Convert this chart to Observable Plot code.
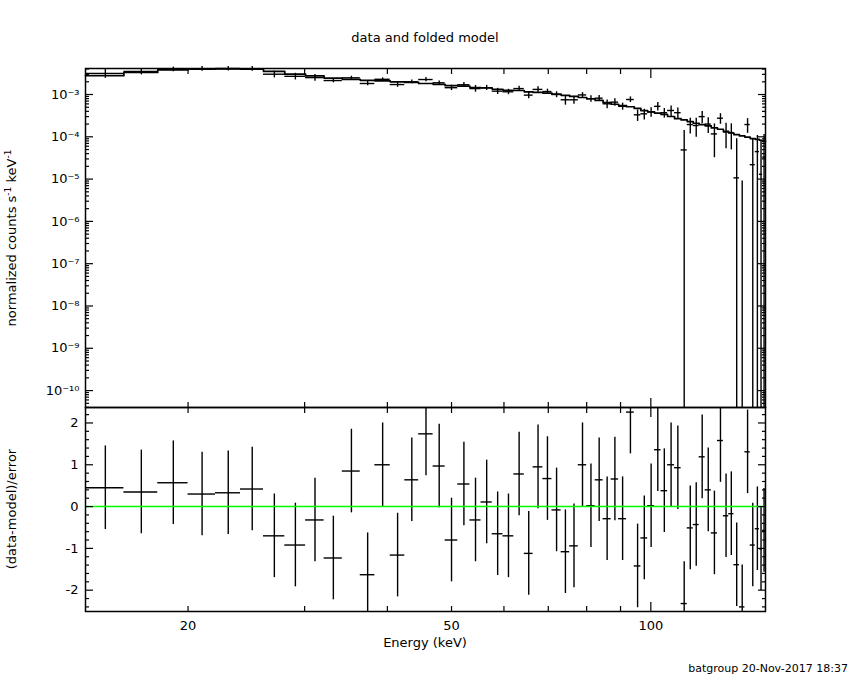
<!DOCTYPE html>
<html>
<head>
<meta charset="utf-8">
<script src="https://cdn.jsdelivr.net/npm/d3@7"></script>
<script src="https://cdn.jsdelivr.net/npm/@observablehq/plot@0.6"></script>
<style>
  html, body { margin: 0; padding: 0; background: #fff; }
  #wrap { position: relative; width: 850px; height: 680px; background: #fff; font-family: "DejaVu Sans", sans-serif; color: #000; overflow: hidden; }
  #plots svg { position: absolute; left: 0; top: 0; }
  .lbl { position: absolute; white-space: nowrap; text-align: center; font-size: 13px; line-height: 16px; }
  .lbl sup { font-size: 9px; vertical-align: 5px; line-height: 0; }
</style>
</head>
<body>
<div id="wrap">
  <div id="plots"></div>
  <div class="lbl" style="left:0;top:30px;width:850px;">data and folded model</div>
  <div class="lbl" style="left:0;top:635px;width:850px;">Energy (keV)</div>
  <div class="lbl" style="left:-138px;top:230px;width:300px;transform:rotate(-90deg);">normalized counts s<sup>-1</sup> keV<sup>-1</sup></div>
  <div class="lbl" style="left:-138px;top:501px;width:300px;transform:rotate(-90deg);">(data-model)/error</div>
  <div class="lbl" style="right:2px;top:662px;font-size:11px;line-height:14px;text-align:right;">batgroup 20-Nov-2017 18:37</div>
</div>
<script>
// ---- data ----
const edges = [14.0,16.0,18.0,20.0,22.0,24.0,26.0,28.0,30.1,32.1,34.2,36.4,38.3,40.4,42.5,44.6,46.9,48.9,51.1,53.3,
  55.4,57.6,59.8,62.1,64.4,66.4,68.7,70.9,73.2,75.4,77.7,80.0,82.4,84.7,87.1,89.4,91.9,94.4,96.6,98.9,
  101.3,103.6,106.0,108.6,111.1,113.5,115.9,118.3,120.8,123.4,126.1,128.7,131.1,133.5,136.1,138.7,141.3,143.8,145.9,147.5,149.0];

const model = [2.79e-3,3.31e-3,3.80e-3,3.98e-3,4.03e-3,3.98e-3,3.51e-3,3.02e-3,2.75e-3,2.45e-3,
  2.29e-3,2.16e-3,2.11e-3,2.00e-3,1.93e-3,1.82e-3,1.74e-3,1.62e-3,1.58e-3,1.46e-3,
  1.43e-3,1.33e-3,1.26e-3,1.245e-3,1.16e-3,1.12e-3,1.08e-3,1.02e-3,9.55e-4,9.0e-4,
  8.5e-4,7.94e-4,7.24e-4,6.46e-4,5.89e-4,5.50e-4,5.13e-4,4.68e-4,4.17e-4,3.89e-4,
  3.63e-4,3.39e-4,3.02e-4,2.69e-4,2.51e-4,2.29e-4,2.09e-4,1.95e-4,1.82e-4,1.62e-4,
  1.51e-4,1.35e-4,1.23e-4,1.12e-4,1.05e-4,9.8e-5,9.1e-5,8.7e-5,8.3e-5,7.9e-5];

const data = [3.16e-3,3.51e-3,3.94e-3,4.07e-3,4.12e-3,4.07e-3,3.02e-3,2.69e-3,2.51e-3,2.14e-3,
  2.48e-3,1.82e-3,2.29e-3,1.72e-3,2.00e-3,2.26e-3,1.89e-3,1.45e-3,1.70e-3,1.38e-3,
  1.45e-3,1.20e-3,1.16e-3,1.38e-3,9.66e-4,1.32e-3,1.175e-3,1.00e-3,7.50e-4,7.50e-4,
  9.77e-4,7.94e-4,8.20e-4,6.03e-4,6.60e-4,5.25e-4,7.62e-4,3.31e-4,3.50e-4,3.89e-4,
  5.25e-4,3.72e-4,4.19e-4,3.72e-4,4.9e-5,1.95e-4,1.85e-4,3.0e-4,2.0e-4,1.17e-4,
  2.75e-4,1.3e-4,1.26e-4,1.07e-5,-6.4e-5,1.95e-4,2.19e-5,4.47e-5,1.3e-5,3.3e-5];

const err = [7.5e-4,6.0e-4,5.0e-4,5.0e-4,5.0e-4,5.2e-4,5.5e-4,4.8e-4,4.5e-4,2.5e-4,
  2.2e-4,2.1e-4,1.8e-4,2.4e-4,2.0e-4,2.5e-4,1.9e-4,2.1e-4,2.2e-4,2.5e-4,
  2.0e-4,2.0e-4,1.7e-4,1.8e-4,1.7e-4,2.1e-4,1.6e-4,1.6e-4,1.9e-4,1.6e-4,
  1.3e-4,1.4e-4,1.3e-4,1.4e-4,1.3e-4,1.0e-4,1.15e-4,1.0e-4,1.0e-4,1.0e-4,
  1.2e-4,9.5e-5,1.17e-4,1.1e-4,9.2e-5,7.9e-5,8.8e-5,9.7e-5,8.1e-5,8.5e-5,
  7.7e-5,7.8e-5,7.7e-5,7.9e-5,7.3e-5,7.4e-5,6.8e-5,6.2e-5,7.0e-5,8.0e-5];

const resid = [0.45,0.35,0.57,0.30,0.33,0.42,-0.70,-0.92,-0.32,-1.23,
  0.85,-1.63,1.00,-1.16,0.64,1.74,0.97,-0.80,0.54,-0.32,
  0.11,-0.65,-0.70,0.78,-1.12,0.95,0.67,-0.08,-1.08,-0.94,
  1.00,0.02,0.64,-0.29,0.66,-0.29,2.26,-1.42,-0.75,0.02,
  1.36,0.38,1.00,0.93,-2.32,-0.51,-0.43,1.19,0.40,-0.63,
  1.58,-0.22,-0.17,-1.39,-2.40,1.31,-0.92,-0.53,-1.01,-0.57];

const xTickLabels = [20, 50, 100];
const xMinorTicks = [20, 30, 40, 50, 60, 70, 80, 90];
const xMajorTicks = [100];
const yTopTickLabels = [1e-3,1e-4,1e-5,1e-6,1e-7,1e-8,1e-9,1e-10];
const residTickLabels = [-2,-1,0,1,2];

// ---- scales ----
const xDom = [14.0, 149.0];
const yTopDom = [3.98e-11, 4.12e-3];
const yResDom = [-2.51, 2.37];

const bins = resid.map((r, i) => ({
  lo: edges[i], hi: edges[i+1], mid: (edges[i] + edges[i+1]) / 2,
  model: model[i], data: data[i], err: err[i], r
}));
const modelPts = bins.map(b => ({x: b.lo, y: b.model}))
  .concat([{x: bins[bins.length-1].hi, y: bins[bins.length-1].model}]);

const yTopMinor = [];
for (let e = -11; e <= -3; e++) for (let k = 2; k <= 9; k++) {
  const v = k * Math.pow(10, e);
  if (v > yTopDom[0] && v < yTopDom[1]) yTopMinor.push(v);
}
const yResMinor = [];
for (let v = -2.4; v <= 2.3; v += 0.2) {
  const rv = Math.round(v * 10) / 10;
  if (Math.abs(rv - Math.round(rv)) > 1e-6) yResMinor.push(rv);
}

const supMap = {"-":"⁻","0":"⁰","1":"¹","2":"²","3":"³","4":"⁴","5":"⁵","6":"⁶","7":"⁷","8":"⁸","9":"⁹"};
const fmtPow = v => "10" + String(Math.round(Math.log10(v))).split("").map(c => supMap[c]).join("");
const blank = () => "";
const FONT = "DejaVu Sans";

function tickMarks(xs, ys, opts) {
  const o = {stroke: "black", strokeWidth: 1.2, label: null, tickFormat: blank};
  const m = [];
  m.push(Plot.axisX(xMinorTicks, {...o, anchor: "top", tickSize: -5}));
  m.push(Plot.axisX(xMinorTicks, {...o, anchor: "bottom", tickSize: -5}));
  m.push(Plot.axisX(xMajorTicks, {...o, anchor: "top", tickSize: -9}));
  m.push(Plot.axisX(xMajorTicks, {...o, anchor: "bottom", tickSize: -9}));
  m.push(Plot.axisY(ys.major, {...o, anchor: "left", tickSize: -8}));
  m.push(Plot.axisY(ys.major, {...o, anchor: "right", tickSize: -8}));
  m.push(Plot.axisY(ys.minor, {...o, anchor: "left", tickSize: -4}));
  m.push(Plot.axisY(ys.minor, {...o, anchor: "right", tickSize: -4}));
  return m;
}

const topPlot = Plot.plot({
  width: 850, height: 420,
  marginLeft: 85, marginRight: 85, marginTop: 68, marginBottom: 13,
  style: {background: "transparent", fontFamily: FONT, overflow: "visible"},
  x: {type: "log", domain: xDom, axis: null},
  y: {type: "log", domain: yTopDom, axis: null},
  marks: [
    Plot.line(modelPts, {x: "x", y: "y", curve: "step-after", stroke: "black", strokeWidth: 1.7}),
    Plot.ruleY(bins.filter(b => b.data > 0), {x1: "lo", x2: "hi", y: "data", stroke: "black", strokeWidth: 1.4}),
    Plot.ruleX(bins, {x: "mid", y1: b => Math.max(b.data - b.err, yTopDom[0]), y2: b => b.data + b.err, stroke: "black", strokeWidth: 1.4}),
    ...tickMarks(null, {major: yTopTickLabels, minor: yTopMinor}),
    Plot.axisY(yTopTickLabels, {anchor: "left", tickSize: 0, tickPadding: 6, tickFormat: fmtPow, fontSize: 13, label: null}),
    Plot.frame({stroke: "black", strokeWidth: 1.5})
  ]
});

const resPlot = Plot.plot({
  width: 850, height: 680,
  marginLeft: 85, marginRight: 85, marginTop: 407, marginBottom: 69,
  style: {background: "transparent", fontFamily: FONT, overflow: "visible"},
  x: {type: "log", domain: xDom, axis: null},
  y: {domain: yResDom, axis: null},
  marks: [
    Plot.ruleY(bins, {x1: "lo", x2: "hi", y: "r", stroke: "black", strokeWidth: 1.4, clip: true}),
    Plot.ruleX(bins, {x: "mid", y1: b => b.r - 1, y2: b => b.r + 1, stroke: "black", strokeWidth: 1.4, clip: true}),
    Plot.ruleY([0], {stroke: "#00ff00", strokeWidth: 1.4}),
    ...tickMarks(null, {major: residTickLabels, minor: yResMinor}),
    Plot.axisY(residTickLabels, {anchor: "left", tickSize: 0, tickPadding: 7, tickFormat: d => String(d), fontSize: 13, label: null}),
    Plot.axisX(xTickLabels, {anchor: "bottom", tickSize: 0, tickPadding: 9, tickFormat: d => String(d), fontSize: 13, label: null}),
    Plot.frame({stroke: "black", strokeWidth: 1.5})
  ]
});

document.getElementById("plots").append(topPlot, resPlot);
</script>
</body>
</html>
